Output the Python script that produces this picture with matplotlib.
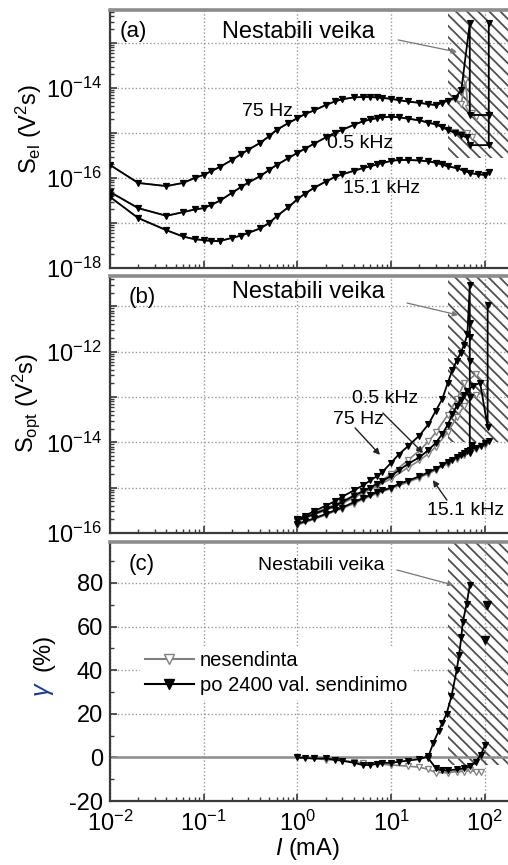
import numpy as np
import matplotlib
matplotlib.use("Agg")
import matplotlib.pyplot as plt
from matplotlib.ticker import FixedLocator, FuncFormatter, LogLocator, NullFormatter, MultipleLocator
from matplotlib.lines import Line2D

plt.rcParams['font.family'] = ['Liberation Sans', 'DejaVu Sans']
plt.rcParams['mathtext.fontset'] = 'custom'
plt.rcParams['mathtext.rm'] = 'Liberation Sans'
plt.rcParams['mathtext.it'] = 'Liberation Sans:italic'
plt.rcParams['mathtext.bf'] = 'Liberation Sans:bold'
plt.rcParams['axes.unicode_minus'] = False
plt.rcParams['hatch.linewidth'] = 1.3
plt.rcParams['hatch.color'] = '#505050'

# ---------------- data ----------------
# (a) electrical noise spectral density, log10 S_el (V^2 s), vs current I (mA)
current_a = [0.01, 0.02, 0.04, 0.06, 0.08, 0.1, 0.12, 0.15, 0.2, 0.25, 0.3, 0.4,
             0.5, 0.6, 0.8, 1.0, 1.2, 1.5, 2, 2.5, 3, 4, 5, 6, 7, 8, 10, 12, 15,
             20, 25, 30, 35, 40]
sel_75hz = [-15.71, -16.11, -16.18, -16.11, -16.00, -15.93, -15.85, -15.75, -15.60,
            -15.47, -15.37, -15.22, -15.07, -14.93, -14.78, -14.67, -14.58, -14.50,
            -14.38, -14.30, -14.25, -14.21, -14.20, -14.20, -14.21, -14.22, -14.24,
            -14.27, -14.30, -14.33, -14.36, -14.38, -14.33, -14.28]
sel_05khz = [-16.31, -16.67, -16.84, -16.76, -16.70, -16.67, -16.60, -16.50, -16.33,
             -16.20, -16.10, -15.96, -15.82, -15.71, -15.56, -15.44, -15.35, -15.24,
             -15.10, -15.00, -14.93, -14.82, -14.74, -14.70, -14.67, -14.65, -14.64,
             -14.65, -14.68, -14.72, -14.77, -14.81, -14.87, -14.93]
sel_151khz = [-16.42, -16.89, -17.16, -17.30, -17.36, -17.38, -17.40, -17.40, -17.33,
              -17.28, -17.22, -17.12, -17.00, -16.85, -16.65, -16.47, -16.35, -16.22,
              -16.08, -15.98, -15.92, -15.84, -15.78, -15.74, -15.70, -15.67, -15.62,
              -15.60, -15.60, -15.61, -15.63, -15.66, -15.70, -15.74]
# unstable-range tails (I > 40 mA)
tail_a_75_fresh_I = [48, 56, 62, 66, 72, 80]
tail_a_75_fresh = [-14.25, -14.35, -13.82, -14.45, -14.55, -14.65]
tail_a_75_aged_I = [48, 56, 69, 69, 110, 110]
tail_a_75_aged = [-14.22, -14.05, -12.56, -14.60, -14.60, -12.56]
tail_a_05_fresh_I = [48, 56, 64, 72]
tail_a_05_fresh = [-14.98, -15.02, -15.00, -15.10]
tail_a_05_aged_I = [48, 56, 64, 69, 110, 110]
tail_a_05_aged = [-15.00, -15.05, -15.10, -15.27, -15.27, -14.60]
tail_a_151_I = [50, 60, 70, 85, 100, 110]
tail_a_151 = [-15.78, -15.84, -15.89, -15.92, -15.93, -15.87]

# (b) optical noise spectral density, log10 S_opt (V^2 s)
current_b = [1.0, 1.2, 1.5, 2, 2.5, 3, 4, 5, 6, 7, 8, 10, 12, 15, 20, 25, 30, 35,
             40, 45, 50, 55, 60, 65]
sopt_75hz_aged = [-15.70, -15.62, -15.52, -15.40, -15.30, -15.20, -15.06, -14.95,
                  -14.84, -14.75, -14.66, -14.45, -14.27, -14.09, -13.85, -13.60,
                  -13.30, -13.05, -12.70, -12.40, -12.20, -12.03, -11.85, -11.62]
sopt_05khz_aged = [-15.72, -15.66, -15.58, -15.48, -15.40, -15.32, -15.18, -15.08,
                   -15.00, -14.92, -14.86, -14.74, -14.62, -14.48, -14.33, -14.17,
                   -14.01, -13.82, -13.62, -13.38, -13.20, -13.06, -12.95, -12.86]
sopt_151khz_aged = [-15.80, -15.74, -15.68, -15.58, -15.50, -15.44, -15.32, -15.23,
                    -15.16, -15.10, -15.06, -15.00, -14.92, -14.85, -14.75, -14.66,
                    -14.58, -14.50, -14.43, -14.38, -14.32, -14.27, -14.23, -14.19]
tail_b_75_I = [69, 69, 69, 69, 69, 69, 72]
tail_b_75 = [-10.53, -11.36, -11.67, -12.20, -13.00, -14.23, -14.05]
tail_b_05_I = [75, 89, 107, 107]
tail_b_05 = [-12.75, -12.69, -13.66, -10.97]
tail_b_151_I = [70, 80, 90, 100, 110]
tail_b_151 = [-14.16, -14.12, -14.07, -14.02, -13.98]

current_b_fresh = [1.0, 1.5, 2, 3, 4, 5, 7, 10, 15, 20, 25, 30, 40, 50, 60, 80, 100]
sopt_75hz_fresh = [-15.70, -15.56, -15.46, -15.30, -15.17, -15.07, -14.92, -14.70,
                   -14.40, -14.18, -13.98, -13.78, -13.40, -13.05, -12.70, -12.50, -12.70]
sopt_05khz_fresh = [-15.74, -15.60, -15.50, -15.35, -15.22, -15.12, -14.97, -14.80,
                    -14.56, -14.40, -14.25, -14.10, -13.78, -13.45, -13.20, -12.95, -12.90]
sopt_151khz_fresh = [-15.82, -15.70, -15.60, -15.46, -15.35, -15.26, -15.13, -15.02,
                     -14.88, -14.78, -14.69, -14.61, -14.47, -14.36, -14.27, -14.15, -14.05]

# (c) correlation coefficient gamma (%)
current_c_aged = [1.0, 1.2, 1.5, 2, 2.5, 3, 4, 5, 6, 7, 8, 10, 12, 15, 20, 25, 28,
                  32, 35, 39, 44, 50, 53, 56, 58, 64, 69]
gamma_aged = [0.0, -0.3, -0.5, -0.5, -1.0, -1.5, -2.5, -3.5, -3.5, -3.0, -2.5, -2.5,
              -2.0, -1.5, -0.8, 0.5, 6.4, 12.0, 15.6, 20.0, 28.0, 40.0, 47.0, 55.0,
              62.0, 70.5, 79.0]
current_c_aged2 = [25, 30, 35, 40, 50, 60, 70, 80, 90, 100]
gamma_aged2 = [-0.5, -5.0, -6.0, -6.0, -5.5, -5.0, -4.0, -2.0, 1.0, 5.5]
current_c_aged_pts = [105, 100]
gamma_aged_pts = [70.0, 54.0]
current_c_fresh = [1.0, 1.5, 2, 3, 4, 5, 7, 10, 15, 20, 25, 30, 40, 50, 60, 70, 80, 90]
gamma_fresh = [0.0, -0.5, -1.0, -1.5, -2.0, -2.5, -3.0, -3.5, -4.0, -4.5, -5.5, -7.0,
               -7.0, -6.5, -6.5, -6.0, -6.5, -6.5]

unstable_from_mA = 40
unstable_floor_a = -15.55   # log10 S_el
unstable_floor_b = -14.0    # log10 S_opt
unstable_floor_c = -3.5     # gamma, %

x_ticks = [1e-2, 1e-1, 1e0, 1e1, 1e2]

legend_labels = ['nesendinta', 'po 2400 val. sendinimo']

# ---------------- styling ----------------
FRESH = dict(color='#808080', lw=1.2, marker='v', ms=4.5, mfc='white', mec='#808080',
             mew=0.9, zorder=3)
AGED = dict(color='black', lw=1.3, marker='v', ms=4.5, mfc='black', mec='black',
            mew=0.8, zorder=4)
DARK = '#3a3a3a'
TICK_SIZE = 17

W, H = 508, 865
fig = plt.figure(figsize=(W / 100, H / 100), dpi=100)


def frame(top, bottom):
    return [110 / W, (H - bottom) / H, 403 / W, (bottom - top) / H]


ax_a = fig.add_axes(frame(10, 268))
ax_b = fig.add_axes(frame(276, 533))
ax_c = fig.add_axes(frame(542, 801))


def style(ax):
    ax.set_xscale('log')
    ax.set_xlim(1e-2, 10 ** 2.3)
    ax.xaxis.set_major_locator(FixedLocator(x_ticks))
    ax.xaxis.set_minor_locator(LogLocator(base=10, subs=np.arange(2, 10), numticks=30))
    ax.xaxis.set_minor_formatter(NullFormatter())
    for s in ('left', 'bottom'):
        ax.spines[s].set_color(DARK)
        ax.spines[s].set_linewidth(1.6)
    ax.spines['top'].set_color('#8c8c8c')
    ax.spines['top'].set_linewidth(2.6)
    ax.spines['right'].set_visible(False)
    ax.tick_params(which='both', direction='in', top=False, right=False,
                   color=DARK, labelsize=TICK_SIZE)
    ax.tick_params(which='major', length=5, width=1.2)
    ax.tick_params(which='minor', length=3, width=1.0)
    ax.tick_params(axis='y', pad=6)
    ax.grid(True, which='major', color='#9a9a9a', linestyle=(0, (1, 1.6)),
            linewidth=1.0, zorder=0.5)
    ax.set_axisbelow(True)


def log_y(ax, lo, hi, labelled):
    ax.set_yscale('log')
    ax.set_ylim(10.0 ** lo, 10.0 ** hi)
    ax.yaxis.set_major_locator(FixedLocator(10.0 ** np.arange(lo, int(np.ceil(hi)))))
    ax.yaxis.set_minor_locator(LogLocator(base=10, subs=np.arange(2, 10), numticks=30))
    ax.yaxis.set_minor_formatter(NullFormatter())
    ax.yaxis.set_major_formatter(FuncFormatter(
        lambda v, p: r'$10^{%d}$' % round(np.log10(v)) if round(np.log10(v)) in labelled else ''))


def pow10(vals):
    return 10.0 ** np.asarray(vals)


def hatch(ax, y0, y1):
    ax.fill_between([unstable_from_mA, 1e3], y0, y1, facecolor='none',
                    edgecolor='#505050', hatch='\\\\\\', linewidth=0, zorder=1)


def note(ax, xy_text, xy_tip, size, color='#777777', lw=0.9):
    ax.annotate('', xy=xy_tip, xytext=xy_text, xycoords='axes fraction',
                textcoords='axes fraction',
                arrowprops=dict(arrowstyle='-|>', color=color, lw=lw,
                                mutation_scale=size, shrinkA=0, shrinkB=0))


# ---------------- (a) ----------------
style(ax_a)
log_y(ax_a, -18, -12.267, (-18, -16, -14))
ax_a.tick_params(axis='x', labelbottom=False)
hatch(ax_a, 10.0 ** unstable_floor_a, 1e-10)

for stable, ti_f, tv_f, ti_a, tv_a in [
        (sel_75hz, tail_a_75_fresh_I, tail_a_75_fresh, tail_a_75_aged_I, tail_a_75_aged),
        (sel_05khz, tail_a_05_fresh_I, tail_a_05_fresh, tail_a_05_aged_I, tail_a_05_aged),
        (sel_151khz, tail_a_151_I, tail_a_151, tail_a_151_I, tail_a_151)]:
    ax_a.plot(current_a + ti_f, pow10(stable + tv_f), **FRESH)
    ax_a.plot(current_a + ti_a, pow10(stable + tv_a), **AGED)

ax_a.set_ylabel(r'S$_{\mathrm{el}}$ (V$^{2}$s)', fontsize=17)
ax_a.yaxis.set_label_coords(-0.163, 0.54)
ax_a.text(0.025, 0.915, '(a)', transform=ax_a.transAxes, fontsize=16, va='center')
ax_a.text(0.278, 0.915, 'Nestabili veika', transform=ax_a.transAxes, fontsize=17,
          va='center')
note(ax_a, (0.715, 0.884), (0.861, 0.837), 8)
ax_a.text(0.328, 0.605, '75 Hz', transform=ax_a.transAxes, fontsize=14, va='center')
ax_a.text(0.538, 0.484, '0.5 kHz', transform=ax_a.transAxes, fontsize=14, va='center')
ax_a.text(0.578, 0.310, '15.1 kHz', transform=ax_a.transAxes, fontsize=14, va='center')

# ---------------- (b) ----------------
style(ax_b)
log_y(ax_b, -16, -10.33, (-16, -14, -12))
ax_b.tick_params(axis='x', labelbottom=False)
hatch(ax_b, 10.0 ** unstable_floor_b, 1e-8)

for fresh, aged, ti, tv in [
        (sopt_75hz_fresh, sopt_75hz_aged, tail_b_75_I, tail_b_75),
        (sopt_05khz_fresh, sopt_05khz_aged, tail_b_05_I, tail_b_05),
        (sopt_151khz_fresh, sopt_151khz_aged, tail_b_151_I, tail_b_151)]:
    ax_b.plot(current_b_fresh, pow10(fresh), **FRESH)
    ax_b.plot(current_b + ti, pow10(aged + tv), **AGED)

ax_b.set_ylabel(r'S$_{\mathrm{opt}}$ (V$^{2}$s)', fontsize=17)
ax_b.yaxis.set_label_coords(-0.168, 0.506)
ax_b.text(0.045, 0.918, '(b)', transform=ax_b.transAxes, fontsize=16, va='center')
ax_b.text(0.303, 0.938, 'Nestabili veika', transform=ax_b.transAxes, fontsize=17,
          va='center')
note(ax_b, (0.737, 0.895), (0.864, 0.848), 8)
ax_b.text(0.600, 0.525, '0.5 kHz', transform=ax_b.transAxes, fontsize=14, va='center')
ax_b.text(0.553, 0.440, '75 Hz', transform=ax_b.transAxes, fontsize=14, va='center')
ax_b.text(0.787, 0.089, '15.1 kHz', transform=ax_b.transAxes, fontsize=14, va='center')
note(ax_b, (0.608, 0.409), (0.670, 0.304), 9, color='#222222', lw=1.0)
note(ax_b, (0.677, 0.467), (0.777, 0.311), 9, color='#222222', lw=1.0)
note(ax_b, (0.836, 0.128), (0.801, 0.206), 9, color='#222222', lw=1.0)

# ---------------- (c) ----------------
style(ax_c)
ax_c.set_ylim(-20, 98.8)
ax_c.yaxis.set_major_locator(MultipleLocator(20))
ax_c.yaxis.set_minor_locator(MultipleLocator(10))
ax_c.tick_params(axis='y', pad=5)
ax_c.tick_params(axis='x', pad=7)
ax_c.xaxis.set_major_formatter(FuncFormatter(lambda v, p: r'$10^{%d}$' % round(np.log10(v))))
hatch(ax_c, unstable_floor_c, 200)
ax_c.axhline(0, color='#8c8c8c', lw=1.8, zorder=2)

ax_c.plot(current_c_fresh, gamma_fresh, **FRESH)
ax_c.plot(current_c_aged2, gamma_aged2, **AGED)
ax_c.plot(current_c_aged, gamma_aged, **AGED)
ax_c.plot(current_c_aged_pts, gamma_aged_pts, ls='none', marker='v', ms=5.5,
          color='black', zorder=4)

ax_c.text(0.045, 0.915, '(c)', transform=ax_c.transAxes, fontsize=16, va='center')
ax_c.text(0.367, 0.911, 'Nestabili veika', transform=ax_c.transAxes, fontsize=14,
          va='center')
note(ax_c, (0.712, 0.892), (0.851, 0.834), 7)

handles = [Line2D([], [], color='#808080', lw=1.5, marker='v', ms=7, mfc='white',
                  mec='#808080'),
           Line2D([], [], color='black', lw=1.5, marker='v', ms=7, mfc='black',
                  mec='black')]
leg = ax_c.legend(handles, legend_labels, loc='upper left',
                  bbox_to_anchor=(0.075, 0.6), fontsize=14.5, handlelength=2.4,
                  handletextpad=0.3, labelspacing=0.3, borderpad=0.25,
                  borderaxespad=0, frameon=True, fancybox=False)
leg.get_frame().set_facecolor('white')
leg.get_frame().set_edgecolor('none')
leg.get_frame().set_alpha(1.0)
leg.set_zorder(6)

ax_c.set_xlabel(r'$\mathit{I}$ (mA)', fontsize=17)
ax_c.xaxis.set_label_coords(0.489, -0.135)
fig.text(44 / W, 1 - 652 / H, '(%)', rotation=90, fontsize=17, ha='center', va='center')
fig.text(44 / W, 1 - 689 / H, r'$\mathit{\gamma}$', rotation=90, fontsize=18,
         ha='center', va='center', color='#1c3c8c')

fig.savefig('out.png', dpi=100, facecolor='white')
